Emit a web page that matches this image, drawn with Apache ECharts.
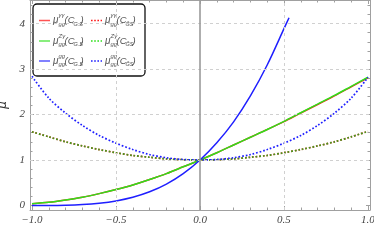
<!DOCTYPE html>
<html>
<head>
<meta charset="utf-8">
<script src="https://cdn.jsdelivr.net/npm/echarts@6/dist/echarts.min.js"></script>
<style>html,body{margin:0;padding:0;background:#fff;}#c{width:374px;height:247px;}</style>
</head>
<body>
<div id="c"></div>
<script>
// ---- data ----
const xGrid = [-1.0,-0.9,-0.8,-0.7,-0.6,-0.5,-0.4,-0.3,-0.2,-0.1,0.0,0.1,0.2,0.3,0.4,0.5,0.6,0.7,0.8,0.9,1.0];
const muGamGamCGS = [0.04,0.07,0.12,0.18,0.26,0.35,0.45,0.57,0.70,0.85,1.00,1.16,1.33,1.50,1.67,1.845,2.035,2.22,2.41,2.61,2.81];
const muZGamCGS   = [0.04,0.07,0.12,0.18,0.26,0.35,0.45,0.57,0.70,0.85,1.00,1.16,1.33,1.50,1.67,1.85,2.04,2.23,2.42,2.62,2.82];
const muGamGamCGtS = [1.62,1.51,1.40,1.31,1.23,1.16,1.10,1.06,1.025,1.006,1.00,1.006,1.025,1.06,1.10,1.16,1.23,1.31,1.40,1.51,1.63];
const muZGamCGtS   = [1.62,1.51,1.40,1.31,1.23,1.16,1.10,1.06,1.025,1.006,1.00,1.006,1.025,1.06,1.10,1.16,1.23,1.31,1.40,1.51,1.63];
const xBlueSolid = [-1.0,-0.9,-0.8,-0.7,-0.6,-0.5,-0.4,-0.3,-0.2,-0.1,0.0,0.1,0.2,0.3,0.4,0.5,0.53];
const muGGCGS = [0.00,0.00,0.005,0.02,0.05,0.10,0.18,0.30,0.47,0.70,1.00,1.38,1.84,2.41,3.09,3.89,4.13];
const muGGCGtS = [2.84,2.36,2.03,1.76,1.54,1.37,1.23,1.12,1.05,1.01,1.00,1.01,1.05,1.12,1.23,1.37,1.54,1.76,2.03,2.36,2.82];
const xTickLabels = [-1.0,-0.5,0.0,0.5,1.0];
const xMinorTicks = [-0.9,-0.8,-0.7,-0.6,-0.4,-0.3,-0.2,-0.1,0.1,0.2,0.3,0.4,0.6,0.7,0.8,0.9];
const yTickLabels = [0,1,2,3,4];
const yMinorTicks = [0.2,0.4,0.6,0.8,1.2,1.4,1.6,1.8,2.2,2.4,2.6,2.8,3.2,3.4,3.6,3.8,4.2,4.4];
const xGridLines = [-0.5,0.5];
const yGridLines = [1,2,3,4];

const RED = '#ff1a1a', GREEN = '#2ee01a', BLUE = '#1f1fff';
const FRAME = '#a0a0a0';
const pair = (xs, ys) => xs.map((x, i) => [x, ys[i]]);

const XMIN = -1.012, XMAX = 1.012, YMIN = -0.1, YMAX = 4.52;
const labelFont = {fontFamily: 'Liberation Serif', fontStyle: 'italic', fontSize: 11, color: '#444'};

function xAx(pos, major, showLabel) {
  return {
    type: 'value', position: pos, min: XMIN, max: XMAX,
    axisLine: {show: major, onZero: false, lineStyle: {color: FRAME, width: 1}},
    axisTick: {show: true, inside: true, length: major ? 4 : 2.5, customValues: major ? xTickLabels : xMinorTicks, lineStyle: {color: FRAME}},
    axisLabel: showLabel ? Object.assign({show: true, margin: 5, customValues: xTickLabels,
      formatter: v => (v < 0 ? '\u2212' : '') + Math.abs(v).toFixed(1)}, labelFont) : {show: false},
    splitLine: {show: false}
  };
}
function yAx(pos, major, showLabel) {
  return {
    type: 'value', position: pos, min: YMIN, max: YMAX,
    name: showLabel ? 'μ' : '', nameLocation: 'middle', nameGap: 18, nameRotate: 90,
    nameTextStyle: {fontFamily: 'DejaVu Sans', fontStyle: 'italic', fontSize: 12, color: '#333'},
    axisLine: {show: major, onZero: false, lineStyle: {color: FRAME, width: 1}},
    axisTick: {show: true, inside: true, length: major ? 4 : 2.5, customValues: major ? yTickLabels : yMinorTicks, lineStyle: {color: FRAME}},
    axisLabel: showLabel ? Object.assign({show: true, margin: 5, customValues: yTickLabels,
      formatter: v => String(v)}, labelFont) : {show: false},
    splitLine: {show: false}
  };
}

const gridMarks = [];
xGridLines.forEach(v => gridMarks.push({xAxis: v}));
yGridLines.forEach(v => gridMarks.push({yAxis: v}));
gridMarks.push({xAxis: 0, lineStyle: {type: 'solid', color: '#9a9a9a', width: 1.6}});

function lineSeries(name, data, color, dotted, z) {
  return {
    name, type: 'line', data, smooth: 0.3, showSymbol: false, symbol: 'none', z,
    xAxisIndex: 0, yAxisIndex: 0, animation: false, silent: true,
    lineStyle: {color, width: dotted ? 1.7 : 1.5, type: dotted ? [1.7, 1.9] : 'solid'}
  };
}

// ---- legend built as graphic text ----
const TXT = '#555';
const legendRows = [
  {sup: 'γγ', color: RED, y: 20.5},
  {sup: 'Zγ', color: GREEN, y: 41},
  {sup: 'gg', color: BLUE, y: 61}
];
function labelEls(x, y, sup, tilde) {
  const base = {fontFamily: 'Liberation Sans', fontStyle: 'italic', fill: TXT, verticalAlign: 'middle', align: 'left'};
  return [
    {type: 'text', style: Object.assign({text: 'μ', x: x, y: y, fontSize: 10}, base)},
    {type: 'text', style: Object.assign({text: sup, x: x + 5.5, y: y - 5, fontSize: 6}, base)},
    {type: 'text', style: Object.assign({text: 'gg', x: x + 5.5, y: y + 3.5, fontSize: 6}, base)},
    {type: 'text', style: Object.assign({text: '(C', x: x + 11.5, y: y, fontSize: 9.5}, base)},
    {type: 'text', style: Object.assign({text: tilde ? 'G\u0303S' : 'G.S', x: x + 20.5, y: y + 3.5, fontSize: 5.5}, base)},
    {type: 'text', style: Object.assign({text: ')', x: x + 27.5, y: y, fontSize: 9.5}, base)}
  ];
}
const legendEls = [{
  type: 'rect', shape: {x: 33, y: 4, width: 112, height: 72, r: 4},
  style: {fill: '#fff', stroke: '#111', lineWidth: 1.3}
}];
legendRows.forEach(r => {
  legendEls.push({type: 'line', shape: {x1: 39, y1: r.y, x2: 50, y2: r.y}, style: {stroke: r.color, lineWidth: 1.5, opacity: 0.75}});
  legendEls.push({type: 'line', shape: {x1: 91, y1: r.y, x2: 102, y2: r.y}, style: {stroke: r.color, lineWidth: 1.5, lineDash: [1.6, 1.6]}});
  labelEls(53, r.y, r.sup, false).forEach(e => legendEls.push(e));
  labelEls(105, r.y, r.sup, true).forEach(e => legendEls.push(e));
});

const chart = echarts.init(document.getElementById('c'), null, {renderer: 'canvas'});
chart.setOption({
  animation: false,
  backgroundColor: '#fff',
  grid: {left: 30, right: 4, top: 0, bottom: 37, containLabel: false, outerBoundsMode: 'none'},
  xAxis: [xAx('bottom', true, true), xAx('bottom', false, false), xAx('top', true, false), xAx('top', false, false)],
  yAxis: [yAx('left', true, true), yAx('left', false, false), yAx('right', true, false), yAx('right', false, false)],
  series: [
    {type: 'line', data: [[0, 1]], showSymbol: false, symbol: 'none', lineStyle: {opacity: 0}, z: 1, silent: true,
      markLine: {silent: true, symbol: 'none', label: {show: false}, animation: false,
        lineStyle: {type: [3, 3], color: '#d0d0d0', width: 1}, data: gridMarks}},
    lineSeries('μγγ(CGS)', pair(xGrid, muGamGamCGS), RED, false, 2),
    lineSeries('μγγ(CG̃S)', pair(xGrid, muGamGamCGtS), RED, true, 2),
    lineSeries('μZγ(CGS)', pair(xGrid, muZGamCGS), GREEN, false, 3),
    lineSeries('μZγ(CG̃S)', pair(xGrid, muZGamCGtS), '#3aa020', true, 3),
    lineSeries('μgg(CGS)', pair(xBlueSolid, muGGCGS), BLUE, false, 4),
    lineSeries('μgg(CG̃S)', pair(xGrid, muGGCGtS), BLUE, true, 4)
  ],
  graphic: {elements: legendEls}
});
</script>
</body>
</html>
